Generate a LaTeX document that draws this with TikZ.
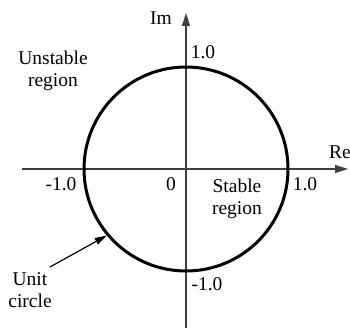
\documentclass[tikz,border=0pt]{standalone}
\usepackage{fontspec}
\setmainfont{Liberation Serif}
\usetikzlibrary{arrows.meta}
\begin{document}
\begin{tikzpicture}[x=1pt,y=-1pt,
  axis/.style={draw=black!75, line width=1.3pt, -{Triangle[length=13pt,width=8pt]}},
  lbl/.style={font=\fontsize{19.5}{22}\selectfont, inner sep=0pt, anchor=base, align=center},
  unitc/.style={circle, draw=black, line width=3pt, inner sep=0pt, minimum size=204pt},
  pointer/.style={draw=black, line width=1.2pt, -{Triangle[length=12pt,width=7pt]}}]
\useasboundingbox (0,0) rectangle (350,328);
\coordinate (xl) at (22,169);
\coordinate (xr) at (348,169);
\coordinate (yb) at (186,328);
\coordinate (yt) at (186,13);
\draw[axis] (xl) -- (xr);
\draw[axis] (yb) -- (yt);
\node[unitc] (uc) at (186,169) {};
\node[lbl] (im) at (161,25) {Im};
\node[lbl] (re) at (340,159) {Re};
\node[lbl] (ptop) at (203,59) {1.0};
\node[lbl] (pbot) at (207,290) {-1.0};
\node[lbl] (pleft) at (61,191) {-1.0};
\node[lbl] (pright) at (305,191) {1.0};
\node[lbl] (zero) at (171,191) {0};
\node[lbl] (unst) at (53,87) {Unstable\\region};
\node[lbl] (stab) at (237,215) {Stable\\region};
\node[lbl] (unit) at (30,307) {Unit\\circle};
\coordinate (ptrstart) at (50,267);
\draw[pointer] (ptrstart) -- (uc.220);
\end{tikzpicture}
\end{document}
